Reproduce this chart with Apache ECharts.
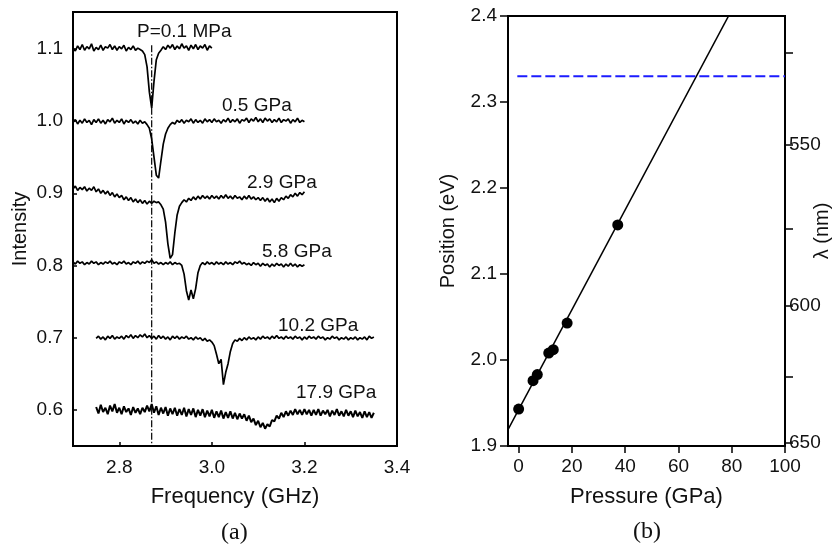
<!DOCTYPE html>
<html><head><meta charset="utf-8">
<script src="https://cdn.jsdelivr.net/npm/echarts@6/dist/echarts.min.js"></script>
<style>html,body{margin:0;padding:0;background:#fff}#c{width:837px;height:550px}</style>
</head><body><div id="c"></div>
<script>
// ---------- Panel (a): ODMR spectra ----------
const STEP = 0.005; // GHz sampling step of the traces
const freqStarts = [2.70, 2.70, 2.70, 2.70, 2.75, 2.75];
const traceLabels = ['P=0.1 MPa', '0.5 GPa', '2.9 GPa', '5.8 GPa', '10.2 GPa', '17.9 GPa'];
const trace01MPa = [1.101,1.097,1.104,1.099,1.106,1.098,1.103,1.100,1.107,1.097,1.102,1.099,1.105,1.098,1.103,1.101,1.106,1.099,1.104,1.098,1.103,1.100,1.105,1.097,1.102,1.099,1.104,1.098,1.101,1.099,1.097,1.092,1.075,1.040,1.018,1.055,1.085,1.094,1.098,1.103,1.099,1.105,1.101,1.106,1.099,1.104,1.100,1.107,1.101,1.104,1.098,1.105,1.100,1.106,1.099,1.104,1.101,1.106,1.098,1.104,1.101];
const trace05GPa = [0.998,1.002,0.996,1.001,0.997,1.003,0.998,1.001,0.995,1.002,0.998,1.003,0.997,1.001,0.996,1.002,0.999,1.004,0.997,1.001,0.998,1.003,0.996,1.001,0.998,1.002,0.997,1.000,0.996,1.001,0.997,0.999,0.995,0.990,0.975,0.950,0.925,0.921,0.945,0.968,0.982,0.990,0.995,0.998,0.996,1.001,0.998,1.002,0.997,1.001,0.999,1.003,0.997,1.002,0.998,1.001,0.997,1.003,0.999,1.002,0.998,1.003,0.999,1.001,0.997,1.002,0.999,1.004,0.998,1.002,0.999,1.003,0.997,1.002,1.000,1.004,0.998,1.003,1.000,1.005,0.999,1.003,0.998,1.004,1.000,1.003,0.998,1.002,0.999,1.004,0.998,1.002,1.000,1.003,0.997,1.002,0.999,1.004,0.998,1.001,0.999];
const trace29GPa = [0.906,0.910,0.904,0.908,0.905,0.909,0.903,0.907,0.904,0.909,0.902,0.906,0.900,0.904,0.899,0.903,0.897,0.901,0.895,0.899,0.894,0.897,0.891,0.895,0.890,0.894,0.888,0.892,0.887,0.891,0.886,0.890,0.885,0.889,0.886,0.889,0.887,0.888,0.884,0.878,0.860,0.830,0.810,0.815,0.845,0.870,0.882,0.887,0.891,0.888,0.893,0.890,0.895,0.891,0.896,0.892,0.897,0.893,0.896,0.892,0.897,0.893,0.896,0.892,0.897,0.893,0.898,0.893,0.896,0.892,0.897,0.893,0.895,0.891,0.896,0.892,0.897,0.892,0.895,0.891,0.894,0.890,0.894,0.889,0.893,0.888,0.892,0.887,0.893,0.889,0.894,0.891,0.896,0.893,0.898,0.895,0.900,0.896,0.901,0.898,0.902];
const trace58GPa = [0.805,0.802,0.806,0.803,0.805,0.801,0.804,0.802,0.806,0.803,0.805,0.801,0.804,0.802,0.805,0.803,0.806,0.802,0.804,0.801,0.805,0.803,0.806,0.802,0.804,0.801,0.805,0.803,0.806,0.802,0.805,0.803,0.806,0.804,0.808,0.803,0.805,0.802,0.804,0.801,0.804,0.802,0.805,0.801,0.804,0.802,0.803,0.800,0.788,0.765,0.752,0.766,0.754,0.768,0.790,0.800,0.804,0.801,0.805,0.802,0.804,0.801,0.805,0.802,0.804,0.801,0.805,0.802,0.804,0.801,0.805,0.803,0.806,0.802,0.804,0.801,0.803,0.800,0.804,0.801,0.803,0.799,0.803,0.800,0.802,0.798,0.802,0.799,0.803,0.800,0.802,0.798,0.802,0.799,0.803,0.799,0.802,0.798,0.801,0.799,0.801];
const trace102GPa = [0.699,0.702,0.698,0.701,0.697,0.702,0.699,0.703,0.698,0.701,0.699,0.702,0.698,0.703,0.700,0.704,0.699,0.703,0.700,0.704,0.701,0.705,0.700,0.703,0.699,0.702,0.698,0.703,0.699,0.702,0.698,0.701,0.697,0.702,0.699,0.702,0.698,0.701,0.699,0.702,0.698,0.700,0.697,0.701,0.698,0.700,0.696,0.699,0.695,0.697,0.694,0.689,0.677,0.664,0.670,0.635,0.652,0.664,0.681,0.692,0.697,0.695,0.699,0.696,0.700,0.697,0.701,0.698,0.700,0.697,0.701,0.698,0.702,0.699,0.701,0.698,0.702,0.699,0.703,0.699,0.701,0.698,0.702,0.699,0.701,0.698,0.702,0.699,0.701,0.697,0.701,0.698,0.702,0.699,0.701,0.698,0.702,0.699,0.701,0.697,0.700,0.698,0.702,0.699,0.701,0.697,0.700,0.698,0.701,0.697,0.700,0.698,0.701,0.697,0.700,0.698,0.701,0.697,0.702,0.699,0.701];
const trace179GPa = [0.604,0.595,0.607,0.597,0.603,0.594,0.606,0.598,0.608,0.596,0.603,0.594,0.605,0.597,0.602,0.593,0.604,0.596,0.602,0.594,0.603,0.597,0.606,0.598,0.608,0.596,0.605,0.593,0.603,0.595,0.604,0.592,0.602,0.594,0.603,0.592,0.601,0.593,0.603,0.591,0.601,0.593,0.602,0.590,0.600,0.592,0.601,0.590,0.599,0.591,0.600,0.589,0.598,0.590,0.599,0.588,0.597,0.589,0.598,0.588,0.596,0.587,0.595,0.588,0.594,0.585,0.592,0.583,0.588,0.579,0.585,0.576,0.582,0.574,0.580,0.577,0.586,0.584,0.592,0.588,0.596,0.590,0.598,0.592,0.599,0.593,0.601,0.594,0.600,0.593,0.601,0.594,0.600,0.592,0.600,0.593,0.601,0.592,0.599,0.594,0.600,0.591,0.599,0.593,0.601,0.592,0.598,0.591,0.600,0.592,0.598,0.590,0.599,0.591,0.597,0.589,0.598,0.590,0.597,0.589,0.596];
const zeroFieldFreq = 2.87;          // GHz, dash-dot reference line
const refLineTop = 1.105, refLineBottom = 0.55;
const freqTicks = [2.8, 3.0, 3.2, 3.4];
const intensityTicks = [0.6, 0.7, 0.8, 0.9, 1.0, 1.1];

// ---------- Panel (b): position vs pressure ----------
const pressure = [0, 5.4, 7.0, 11.3, 13.0, 18.2, 37.2];
const position = [1.943, 1.976, 1.983, 2.008, 2.012, 2.043, 2.157];
const fitPressure = [-4, 80];
const fitPosition = [1.919, 2.407];
const laserPressure = [-0.5, 100];
const laserPosition = [2.33, 2.33];
const pressureTicks = [0, 20, 40, 60, 80, 100];
const positionTicks = [1.9, 2.0, 2.1, 2.2, 2.3, 2.4];
const HC = 1237.5; // eV*nm conversion used for the wavelength axis
const lambdaTicks = [525, 550, 575, 600, 625, 650];
const lambdaLabels = [550, 600, 650];

const traces = [trace01MPa, trace05GPa, trace29GPa, trace58GPa, trace102GPa, trace179GPa];
const FONT = '"Liberation Sans", Arial, sans-serif';
const TXT = '#111';

const traceSeries = traces.map((vals, k) => ({
  type: 'line', xAxisIndex: 0, yAxisIndex: 0, name: traceLabels[k],
  showSymbol: false, symbol: 'none', z: 3,
  lineStyle: { color: '#000', width: k === 5 ? 2 : 1.7 },
  data: vals.map((v, i) => [+(freqStarts[k] + i * STEP).toFixed(3), v])
}));

const chart = echarts.init(document.getElementById('c'), null, { renderer: 'canvas' });
chart.setOption({
  animation: false,
  backgroundColor: '#fff',
  grid: [
    { left: 73, right: 440, top: 12, bottom: 104, show: true, borderColor: '#000', borderWidth: 2,
      containLabel: false, outerBoundsMode: 'none' },
    { left: 508, right: 52, top: 16, bottom: 104, show: true, borderColor: '#000', borderWidth: 2,
      containLabel: false, outerBoundsMode: 'none' }
  ],
  xAxis: [
    { type: 'value', gridIndex: 0, min: 2.7, max: 3.4,
      name: 'Frequency (GHz)', nameLocation: 'middle', nameGap: 40, nameMoveOverlap: false,
      nameTextStyle: { fontFamily: FONT, fontSize: 22, color: TXT },
      axisLine: { lineStyle: { color: '#000', width: 2 } },
      axisTick: { inside: true, length: 4, customValues: freqTicks, lineStyle: { color: '#000', width: 1.5 } },
      axisLabel: { customValues: freqTicks, margin: 12, fontFamily: FONT, fontSize: 19, color: TXT, formatter: v => v.toFixed(1) },
      splitLine: { show: false } },
    { type: 'value', gridIndex: 1, min: -4, max: 100,
      name: 'Pressure (GPa)', nameLocation: 'middle', nameGap: 40, nameMoveOverlap: false,
      nameTextStyle: { fontFamily: FONT, fontSize: 22, color: TXT },
      axisLine: { onZero: false, lineStyle: { color: '#000', width: 2 } },
      axisTick: { inside: false, length: 7, customValues: pressureTicks, lineStyle: { color: '#000', width: 1.5 } },
      axisLabel: { customValues: pressureTicks, margin: 11, fontFamily: FONT, fontSize: 19, color: TXT },
      splitLine: { show: false } }
  ],
  yAxis: [
    { type: 'value', gridIndex: 0, min: 0.55, max: 1.151,
      name: 'Intensity', nameLocation: 'middle', nameGap: 43, nameRotate: 90, nameMoveOverlap: false,
      nameTextStyle: { fontFamily: FONT, fontSize: 20, color: TXT },
      axisLine: { lineStyle: { color: '#000', width: 2 } },
      axisTick: { inside: true, length: 4, customValues: intensityTicks, lineStyle: { color: '#000', width: 1.5 } },
      axisLabel: { customValues: intensityTicks, margin: 10, fontFamily: FONT, fontSize: 19, color: TXT, formatter: v => v.toFixed(1) },
      splitLine: { show: false } },
    { type: 'value', gridIndex: 1, min: 1.9, max: 2.4,
      name: 'Position (eV)', nameLocation: 'middle', nameGap: 50, nameRotate: 90, nameMoveOverlap: false,
      nameTextStyle: { fontFamily: FONT, fontSize: 20, color: TXT },
      axisLine: { onZero: false, lineStyle: { color: '#000', width: 2 } },
      axisTick: { inside: false, length: 8, customValues: positionTicks, lineStyle: { color: '#000', width: 1.5 } },
      axisLabel: { customValues: positionTicks, margin: 11, fontFamily: FONT, fontSize: 19, color: TXT, formatter: v => v.toFixed(1) },
      splitLine: { show: false } },
    { type: 'value', gridIndex: 1, min: 1.9, max: 2.4, position: 'right',
      name: 'λ (nm)', nameLocation: 'middle', nameGap: 27, nameRotate: 90, nameMoveOverlap: false,
      nameTextStyle: { fontFamily: FONT, fontSize: 20, color: TXT },
      axisLine: { onZero: false, lineStyle: { color: '#000', width: 2 } },
      axisTick: { inside: false, length: 8, customValues: lambdaTicks.map(l => HC / l), lineStyle: { color: '#000', width: 1.5 } },
      axisLabel: { customValues: lambdaLabels.map(l => HC / l), margin: 4, fontFamily: FONT, fontSize: 19, color: TXT,
                   formatter: v => String(Math.round(HC / v)) },
      splitLine: { show: false } }
  ],
  series: [
    { type: 'line', xAxisIndex: 0, yAxisIndex: 0, showSymbol: false, symbol: 'none', z: 2,
      lineStyle: { color: '#000', width: 1.2, type: [7, 2, 1.5, 2] },
      data: [[zeroFieldFreq, refLineTop], [zeroFieldFreq, refLineBottom]] },
    ...traceSeries,
    { type: 'line', xAxisIndex: 1, yAxisIndex: 1, showSymbol: false, symbol: 'none', clip: true, z: 3,
      lineStyle: { color: '#000', width: 1.5 },
      data: fitPressure.map((p, i) => [p, fitPosition[i]]) },
    { type: 'line', xAxisIndex: 1, yAxisIndex: 1, showSymbol: false, symbol: 'none', clip: true, z: 3,
      lineStyle: { color: '#1c1cff', width: 2, type: [10, 4] },
      data: laserPressure.map((p, i) => [p, laserPosition[i]]) },
    { type: 'scatter', xAxisIndex: 1, yAxisIndex: 1, symbol: 'circle', symbolSize: 11, z: 4,
      itemStyle: { color: '#000', opacity: 1 },
      data: pressure.map((p, i) => [p, position[i]]) }
  ],
  graphic: [
    { type: 'text', left: 137, top: 22, style: { text: traceLabels[0], font: '19px ' + FONT, fill: TXT } },
    { type: 'text', left: 222, top: 96, style: { text: traceLabels[1], font: '19px ' + FONT, fill: TXT } },
    { type: 'text', left: 247, top: 173, style: { text: traceLabels[2], font: '19px ' + FONT, fill: TXT } },
    { type: 'text', left: 262, top: 242, style: { text: traceLabels[3], font: '19px ' + FONT, fill: TXT } },
    { type: 'text', left: 278, top: 316, style: { text: traceLabels[4], font: '19px ' + FONT, fill: TXT } },
    { type: 'text', left: 296, top: 383, style: { text: traceLabels[5], font: '19px ' + FONT, fill: TXT } },
    { type: 'text', left: 221, top: 521, style: { text: '(a)', font: '24px "Liberation Serif", serif', fill: TXT } },
    { type: 'text', left: 633, top: 520, style: { text: '(b)', font: '24px "Liberation Serif", serif', fill: TXT } }
  ]
});
</script>
</body></html>
